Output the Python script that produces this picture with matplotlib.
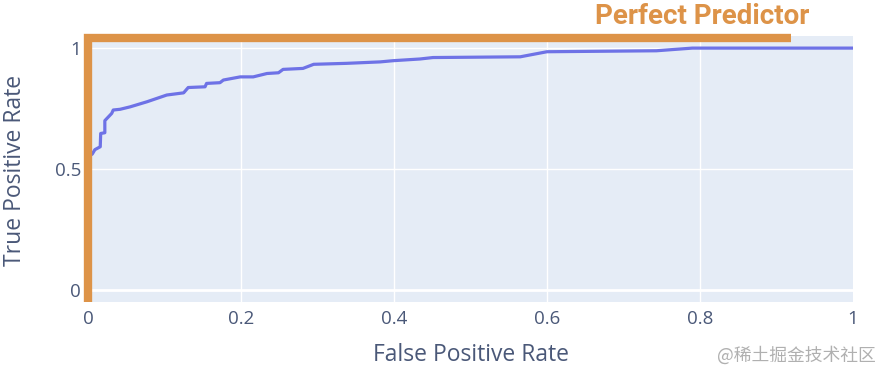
"""ROC curve with a perfect predictor reference, plotly-like styling"""

import matplotlib

matplotlib.use("Agg")
import matplotlib.pyplot as plt

# ROC curve values
fpr = [0, 0, 0.0056, 0.009, 0.016, 0.0166, 0.022, 0.022, 0.031, 0.033, 0.042,
       0.055, 0.077, 0.103, 0.125, 0.131, 0.153, 0.155, 0.1725, 0.177, 0.199,
       0.216, 0.234, 0.249, 0.255, 0.281, 0.295, 0.338, 0.382, 0.399, 0.434,
       0.451, 0.565, 0.60, 0.743, 0.79, 1.0]
tpr = [0, 0.55, 0.562, 0.58, 0.592, 0.647, 0.65, 0.70, 0.73, 0.744, 0.747,
       0.757, 0.778, 0.806, 0.815, 0.837, 0.840, 0.854, 0.857, 0.868, 0.881,
       0.881, 0.895, 0.898, 0.912, 0.916, 0.933, 0.937, 0.943, 0.948, 0.955,
       0.961, 0.964, 0.985, 0.989, 1.0, 1.0]

# perfect predictor corner line
perfect_x = [0, 0, 0.919]
perfect_y = [-0.05, 1.04, 1.04]

x_ticks = [0, 0.2, 0.4, 0.6, 0.8, 1]
x_tick_labels = ["0", "0.2", "0.4", "0.6", "0.8", "1"]
y_ticks = [0, 0.5, 1]
y_tick_labels = ["0", "0.5", "1"]

TEXT = "#4a5878"
ORANGE = "#dd9348"
BLUE = "#6e72e6"

plt.rcParams["font.family"] = ["Open Sans", "DejaVu Sans"]

fig = plt.figure(figsize=(8.8, 3.74), dpi=100)
ax = fig.add_axes([0.1, 0.1925, 0.8693, 0.7112])
ax.set_facecolor("#e5ecf6")

# Grid
for x in x_ticks[1:-1]:
    ax.axvline(x, color="white", lw=1.0, zorder=1)
for y in y_ticks:
    ax.axhline(y, color="white", lw=2.0 if y == 0 else 1.0, zorder=1)

# Curves
ax.plot(fpr, tpr, color=BLUE, lw=2.3, zorder=3)
ax.plot(perfect_x, perfect_y, color=ORANGE, lw=6, zorder=4,
        solid_capstyle="butt", solid_joinstyle="miter", clip_on=False)

## Plot adjustments
ax.set_xlim(0, 1)
ax.set_ylim(-0.05, 1.05)
ax.set_xticks(x_ticks, x_tick_labels)
ax.set_yticks(y_ticks, y_tick_labels)
ax.tick_params(length=0, labelsize=13.5, labelcolor=TEXT)
ax.tick_params(axis="x", pad=5.5)
ax.tick_params(axis="y", pad=5)
for s in ax.spines.values():
    s.set_visible(False)

fig.text(0.5347, 0.05, "False Positive Rate", ha="center", va="center",
         fontsize=16.5, color=TEXT)
fig.text(0.017, 0.545, "True Positive Rate", ha="center", va="center",
         rotation=90, fontsize=16.5, color=TEXT)

fig.text(0.7977, 0.955, "Perfect Predictor", ha="center", va="center",
         fontsize=20, color=ORANGE, fontweight="bold", family="Roboto")

fig.text(0.9045, 0.05, "@稀土掘金技术社区", ha="center", va="center",
         fontsize=12.8, color="#b0b0b0",
         family=["Noto Sans CJK SC", "DejaVu Sans"])

fig.savefig("out.png", dpi=100)
